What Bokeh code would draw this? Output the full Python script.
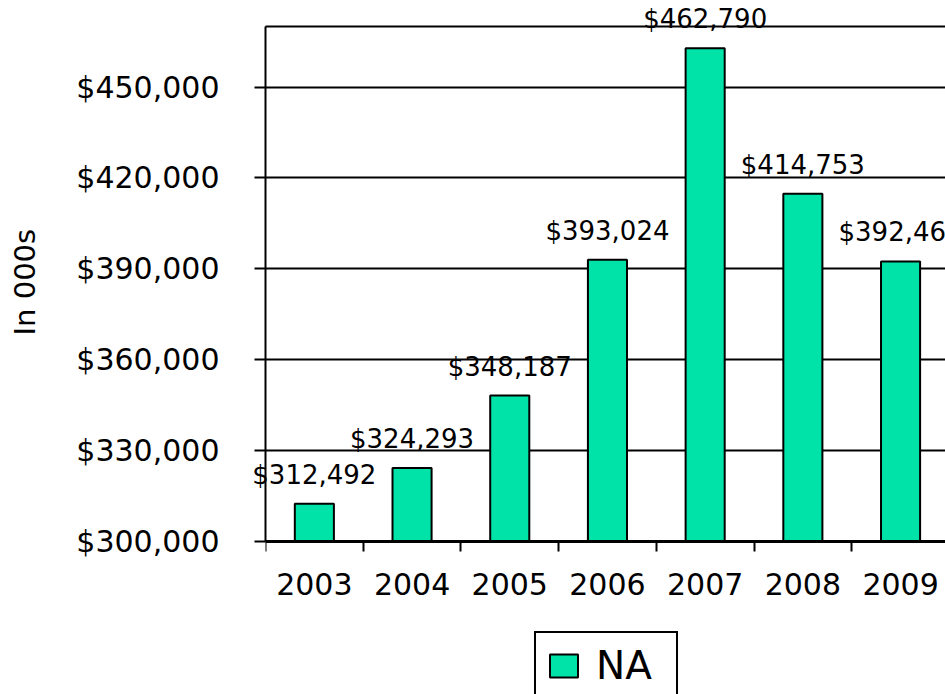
from bokeh.plotting import figure
from bokeh.models import (Range1d, FixedTicker, LinearAxis, Legend, LegendItem,
                          NumeralTickFormatter, ColumnDataSource)
from bokeh.core.properties import value
from bokeh.embed import file_html
from bokeh.resources import INLINE

years = ["2003", "2004", "2005", "2006", "2007", "2008", "2009"]
revenue = [312492, 324293, 348187, 393024, 462790, 414753, 392461]
y_ticks = [300000, 330000, 360000, 390000, 420000, 450000]
series_name = "NA"
axis_title = "In 000s"

FONT = "DejaVu Sans"
BAR = "#00E3A8"
Y_BASE, Y_TOP = 300000, 470000
# extra room below the baseline (inside the frame) for the year labels and legend
Y_START = 249494
# non-breaking spaces lift the axis title so it is centred on the value range
TITLE_PAD = "\u00a0" * 17

xs = [i + 0.5 for i in range(len(years))]
src = ColumnDataSource(dict(
    x=xs, top=revenue, label=["${:,}".format(v) for v in revenue]))

p = figure(width=945, height=694, output_backend="svg", toolbar_location=None,
           x_range=Range1d(0, 6.96), y_range=Range1d(Y_START, Y_TOP),
           min_border_left=265, min_border_right=0, min_border_top=26,
           min_border_bottom=0)
p.outline_line_color = None
p.background_fill_color = "white"
p.border_fill_color = "white"

bars = p.vbar(x="x", top="top", bottom=Y_BASE, width=0.4, source=src,
              fill_color=BAR, line_color="black", line_width=2)
p.text(x="x", y="top", text="label", source=src, text_align="center",
       text_baseline="alphabetic", y_offset=-29, text_font=value(FONT),
       text_font_size="26px", text_color="black", level="overlay")

# x axis, pinned to the baseline
xa = p.xaxis[0]
xa.fixed_location = Y_BASE
xa.ticker = FixedTicker(ticks=xs, minor_ticks=list(range(len(years) + 1)))
xa.major_label_overrides = {x: y for x, y in zip(xs, years)}
xa.major_tick_line_color = None
xa.major_tick_out = 0
xa.minor_tick_line_color = "black"
xa.minor_tick_line_width = 2
xa.minor_tick_out = 10
xa.minor_tick_in = 0
xa.axis_line_color = "black"
xa.axis_line_width = 3
xa.major_label_text_font = FONT
xa.major_label_text_font_size = "30px"
xa.major_label_text_color = "black"
xa.major_label_standoff = 22

# y axis
ya = p.yaxis[0]
ya.bounds = (Y_BASE, Y_TOP)
ya.ticker = FixedTicker(ticks=y_ticks, minor_ticks=[])
ya.formatter = NumeralTickFormatter(format="$0,0")
ya.major_tick_line_color = "black"
ya.major_tick_line_width = 2
ya.major_tick_out = 11
ya.major_tick_in = 0
ya.minor_tick_line_color = None
ya.axis_line_color = "black"
ya.axis_line_width = 2
ya.major_label_text_font = FONT
ya.major_label_text_font_size = "30px"
ya.major_label_text_color = "black"
ya.major_label_standoff = 35
ya.axis_label = TITLE_PAD + axis_title
ya.axis_label_text_font = FONT
ya.axis_label_text_font_size = "29px"
ya.axis_label_text_font_style = "normal"
ya.axis_label_text_color = "black"
ya.axis_label_standoff = 31

# top border line
top_axis = LinearAxis(ticker=FixedTicker(ticks=[]), major_tick_line_color=None,
                      minor_tick_line_color=None, major_label_text_font_size="0px",
                      axis_line_color="black", axis_line_width=2)
p.add_layout(top_axis, "above")

p.xgrid.visible = False
p.ygrid.ticker = FixedTicker(ticks=y_ticks)
p.ygrid.grid_line_color = "black"
p.ygrid.grid_line_width = 2

legend = Legend(items=[LegendItem(label=series_name, renderers=[bars])],
                location=(269, -6), label_text_font=FONT,
                label_text_font_size="39px", label_text_color="black",
                glyph_width=35, glyph_height=29, label_standoff=15,
                label_width=70, padding=10, margin=0,
                border_line_color="black", border_line_width=2,
                border_line_alpha=1,
                background_fill_color="white", background_fill_alpha=1)
p.add_layout(legend)

open("out.html", "w").write(file_html(p, INLINE))
